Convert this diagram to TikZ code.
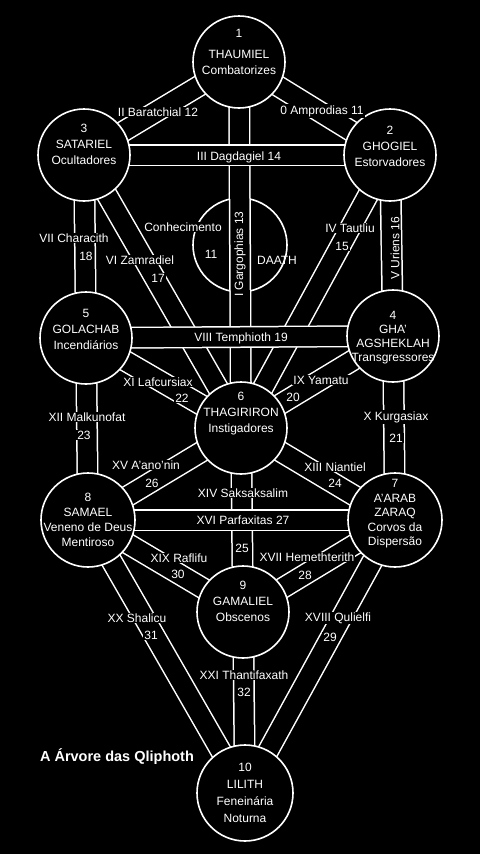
\documentclass[tikz,border=0pt]{standalone}
\usepackage{fontspec}
\setmainfont{Liberation Sans}
\pgfdeclarelayer{back}
\pgfdeclarelayer{paths}
\pgfsetlayers{back,paths,main}
\tikzset{
  sephira/.style={circle, draw=white, fill=black, line width=1.6pt, minimum size=92pt, inner sep=0pt},
  seftext/.style={text=white, align=center, inner sep=0pt, font=\fontsize{12}{16}\selectfont},
  channel/.style={draw=white, line width=1.5pt, double=black, double distance=19pt},
  lbl/.style={text=white, fill=black, inner sep=1pt, font=\fontsize{12}{14}\selectfont},
}

\begin{document}
\begin{tikzpicture}[x=1pt, y=-1pt]
  \begin{pgfonlayer}{back}
    \fill[black] (0,0) rectangle (480,854);
    \node[circle, draw=white, line width=1.6pt, minimum size=94pt] (daath) at (240,245) {};
  \end{pgfonlayer}

  \node[sephira] (thaumiel) at (239,62) {};
  \node[sephira] (satariel) at (84,155) {};
  \node[sephira] (ghogiel) at (390,155) {};
  \node[sephira] (golachab) at (86,338) {};
  \node[sephira] (ghagsheklah) at (393,336) {};
  \node[sephira] (thagiriron) at (241,428) {};
  \node[sephira, minimum size=94pt] (samael) at (88,520) {};
  \node[sephira, minimum size=94pt] (aarab) at (395,520) {};
  \node[sephira] (gamaliel) at (243,612) {};
  \node[sephira, minimum size=96pt] (lilith) at (245,793) {};

  \begin{pgfonlayer}{paths}
    \foreach \a/\b in {thaumiel/satariel, thaumiel/ghogiel, thaumiel/thagiriron,
        satariel/golachab, satariel/thagiriron, ghogiel/ghagsheklah, ghogiel/thagiriron,
        golachab/thagiriron, ghagsheklah/thagiriron, golachab/samael, ghagsheklah/aarab,
        thagiriron/samael, thagiriron/aarab, thagiriron/gamaliel, samael/gamaliel,
        aarab/gamaliel, samael/lilith, aarab/lilith, gamaliel/lilith}
      \draw[channel] (\a.center) -- (\b.center);
    % the three crossing bars
    \foreach \a/\b in {satariel/ghogiel, golachab/ghagsheklah, samael/aarab}
      \draw[channel] (\a.center) -- (\b.center);
  \end{pgfonlayer}

  % names of the spheres
  \node[seftext] (thaumiel-t) at (239,52) {1\\[5pt]THAUMIEL\\Combatorizes};
  \node[seftext] (satariel-t) at (84,144) {3\\SATARIEL\\Ocultadores};
  \node[seftext] (ghogiel-t) at (390,146) {2\\GHOGIEL\\Estorvadores};
  \node[seftext] (golachab-t) at (86,329) {5\\GOLACHAB\\Incendiários};
  \node[seftext, font=\fontsize{12}{14}\selectfont] (ghagsheklah-t) at (393,338) {4\\GHA'\\AGSHEKLAH\\Transgressores};
  \node[seftext] (thagiriron-t) at (241,414) {6\\THAGIRIRON\\Instigadores};
  \node[seftext, font=\fontsize{12}{15}\selectfont] (samael-t) at (88,520) {8\\SAMAEL\\Veneno de Deus\\Mentiroso};
  \node[seftext, font=\fontsize{12}{14.5}\selectfont] (aarab-t) at (395,514) {7\\A'ARAB\\ZARAQ\\Corvos da\\Dispersão};
  \node[seftext] (gamaliel-t) at (243,601) {9\\GAMALIEL\\Obscenos};
  \node[seftext, font=\fontsize{12}{17}\selectfont] (lilith-t) at (245,793) {10\\LILITH\\Feneinária\\Noturna};

  \node[lbl, fill=none] (daath-n) at (211,254) {11};
  \node[lbl, fill=none] (daath-t) at (277,260) {DAATH};
  \node[lbl] (daath-k) at (183,227) {Conhecimento};

  % paths
  \node[lbl] (p12) at (158,112) {II Baratchial 12};
  \node[lbl] (p11) at (322,111) {0 Amprodias 11};
  \node[lbl] (p14) at (239,157) {III Dagdagiel 14};
  \node[lbl, rotate=90] (p13) at (240,254) {I Gargophias 13};
  \node[lbl] (p18) at (74,238) {VII Characith};
  \node[lbl] (p18n) at (86,256) {18};
  \node[lbl] (p17) at (140,260) {VI Zamradiel};
  \node[lbl] (p17n) at (158,278) {17};
  \node[lbl] (p15) at (350,228) {IV Tautliu};
  \node[lbl] (p15n) at (342,246) {15};
  \node[lbl, rotate=90] (p16) at (395,248) {V Uriens 16};
  \node[lbl] (p19) at (241,338) {VIII Temphioth 19};
  \node[lbl] (p22) at (158,382) {XI Lafcursiax};
  \node[lbl] (p22n) at (182,398) {22};
  \node[lbl] (p20) at (321,380) {IX Yamatu};
  \node[lbl] (p20n) at (293,397) {20};
  \node[lbl] (p23) at (87,417) {XII Malkunofat};
  \node[lbl] (p23n) at (84,435) {23};
  \node[lbl] (p21) at (396,417) {X Kurgasiax};
  \node[lbl] (p21n) at (396,438) {21};
  \node[lbl] (p26) at (146,465) {XV A'ano'nin};
  \node[lbl] (p26n) at (152,483) {26};
  \node[lbl] (p24) at (335,467) {XIII Niantiel};
  \node[lbl] (p24n) at (335,483) {24};
  \node[lbl] (p25) at (243,493) {XIV Saksaksalim};
  \node[lbl] (p27) at (243,520) {XVI Parfaxitas 27};
  \node[lbl] (p25n) at (242,548) {25};
  \node[lbl] (p30) at (179,558) {XIX Raflifu};
  \node[lbl] (p30n) at (178,574) {30};
  \node[lbl] (p28) at (307,557) {XVII Hemethterith};
  \node[lbl] (p28n) at (305,575) {28};
  \node[lbl] (p31) at (137,618) {XX Shalicu};
  \node[lbl] (p31n) at (151,635) {31};
  \node[lbl] (p29) at (338,618) {XVIII Qulielfi};
  \node[lbl] (p29n) at (330,637) {29};
  \node[lbl] (p32) at (244,675) {XXI Thantifaxath};
  \node[lbl] (p32n) at (244,692) {32};

  \node[text=white, font=\fontsize{14.5}{16}\selectfont\bfseries] (title) at (117,757) {A Árvore das Qliphoth};
\end{tikzpicture}
\end{document}
